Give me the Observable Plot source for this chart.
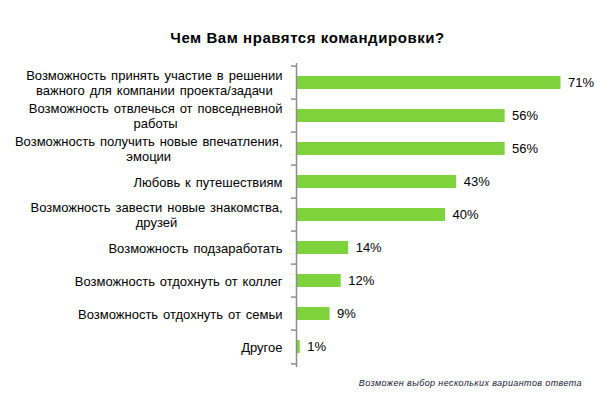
<!DOCTYPE html>
<html><head><meta charset="utf-8">
<script src="https://cdn.jsdelivr.net/npm/d3@7"></script>
<script src="https://cdn.jsdelivr.net/npm/@observablehq/plot@0.6"></script>
<style>
body{margin:0;background:#fff;}
#wrap{position:relative;width:605px;height:400px;font-family:"Liberation Sans",Arial,sans-serif;}
#title{position:absolute;left:5px;width:605px;top:29px;text-align:center;font-weight:bold;font-size:15px;letter-spacing:0.55px;color:#000;z-index:1;}
#note{position:absolute;right:23px;top:378px;font-style:italic;font-size:9px;color:#141433;z-index:1;letter-spacing:0.4px;}
#chart{position:absolute;left:0;top:0;}
</style></head><body>
<div id="wrap"><div id="chart"></div><div id="title">Чем Вам нравятся командировки?</div><div id="note">Возможен выбор нескольких вариантов ответа</div></div>
<script>
const categories = [
  "Возможность принять участие в решении\nважного для компании проекта/задачи",
  "Возможность отвлечься от повседневной\nработы",
  "Возможность получить новые впечатления,\nэмоции",
  "Любовь к путешествиям",
  "Возможность завести новые знакомства,\nдрузей",
  "Возможность подзаработать",
  "Возможность отдохнуть от коллег",
  "Возможность отдохнуть от семьи",
  "Другое"
];
const values = [71, 56, 56, 43, 40, 14, 12, 9, 1];

const data = categories.map((c, i) => ({cat: c, value: values[i]}));
const W = 605, H = 400, mTop = 63, mBottom = 33, mLeft = 296, mRight = 11;
const step = (H - mTop - mBottom) / categories.length;
const FONT = 13, WS = 1.3;
const ctx = document.createElement("canvas").getContext("2d");
ctx.font = `${FONT}px "Liberation Sans", Arial, sans-serif`;
const measure = l => ctx.measureText(l).width + (l.split(" ").length - 1) * WS;
const green = "#7ed33c", axisColor = "#8c8c8c";

const labelMarks = categories.map(c => {
  const maxW = d3.max(c.split("\n"), measure);
  return Plot.text([c], {
    y: d => d, text: d => d, frameAnchor: "left", textAnchor: "middle",
    dx: -(14 + maxW / 2), lineAnchor: "middle", lineHeight: 1.08,
    fontSize: FONT, fill: "#000"
  });
});

const chart = Plot.plot({
  width: W, height: H,
  marginTop: mTop, marginBottom: mBottom, marginLeft: mLeft, marginRight: mRight,
  style: {fontFamily: '"Liberation Sans", Arial, sans-serif', background: "transparent", overflow: "visible", wordSpacing: WS + "px"},
  x: {domain: [0, 80], axis: null},
  y: {domain: categories, paddingInner: 0.6, paddingOuter: 0.3},
  marks: [
    Plot.barX(data, {x: "value", y: "cat", fill: green}),
    Plot.text(data, {x: "value", y: "cat", text: d => d.value + "%", textAnchor: "start", dx: 7, fontSize: 13, fill: "#000"}),
    Plot.ruleX([0], {stroke: axisColor, strokeWidth: 1.5}),
    Plot.axisY(categories, {tickSize: 5, dy: -step / 2, tickFormat: () => "", label: null, stroke: axisColor, strokeWidth: 1.5}),
    Plot.axisY([categories[categories.length - 1]], {tickSize: 5, dy: step / 2, tickFormat: () => "", label: null, stroke: axisColor, strokeWidth: 1.5}),
    ...labelMarks
  ]
});
document.getElementById("chart").appendChild(chart);
</script>
</body></html>
